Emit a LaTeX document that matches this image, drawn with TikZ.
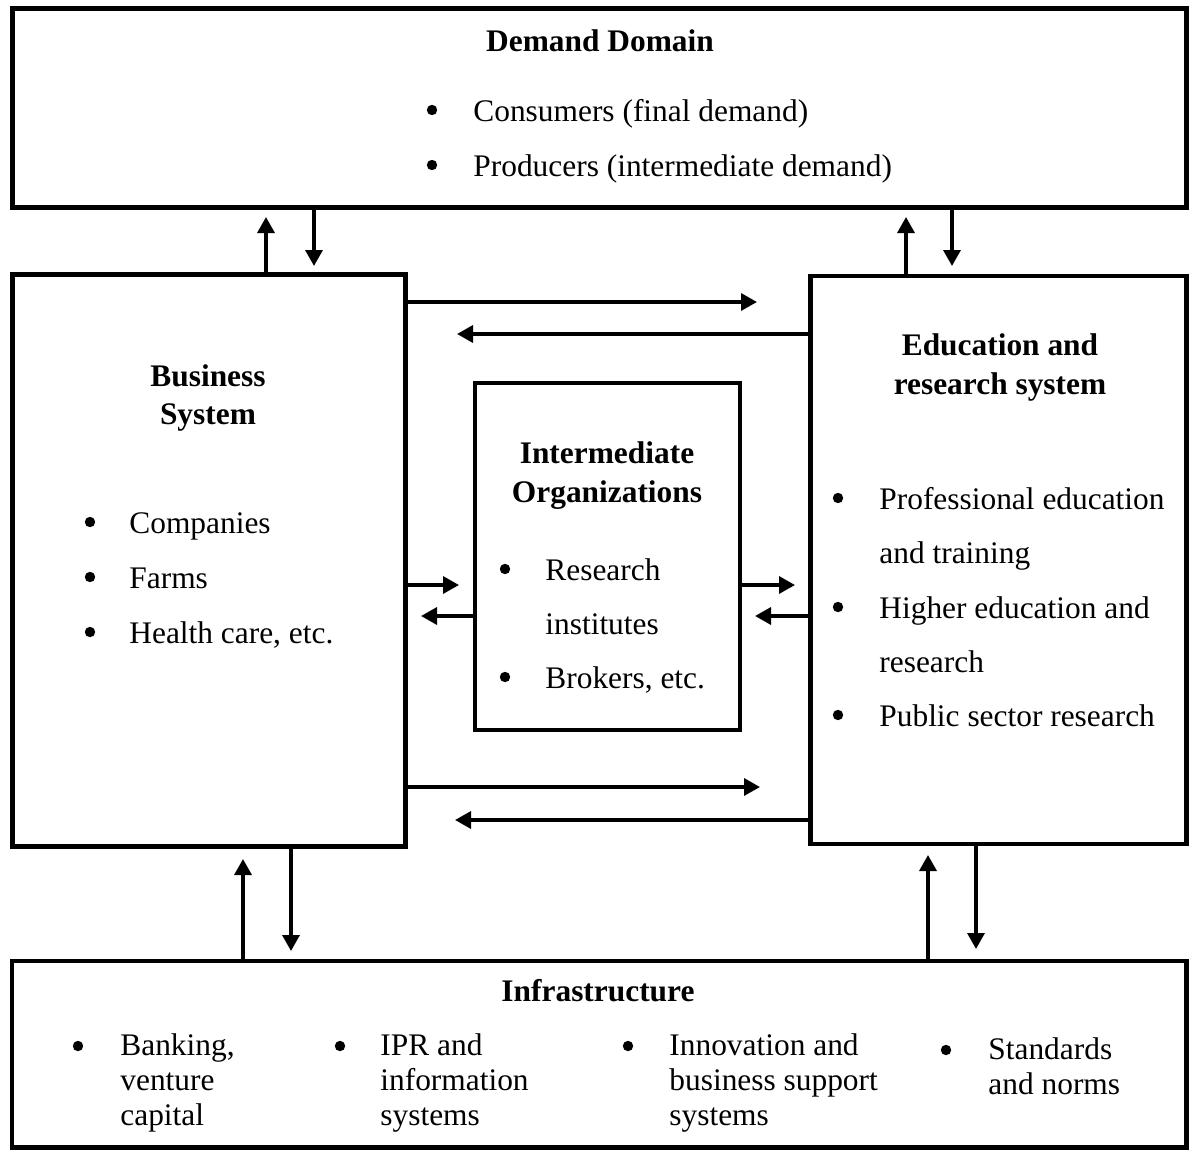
\documentclass[tikz,border=0pt]{standalone}
\usepackage{fontspec}
\setmainfont{Liberation Serif}
\usetikzlibrary{arrows.meta}
\begin{document}
\begin{tikzpicture}[x=0.5pt,y=-0.5pt,
  box/.style={draw, line width=2.2pt, rectangle, inner sep=0pt},
  arr/.style={line width=1.7pt, -{Triangle[length=8pt,width=8.5pt]}},
  txt/.style={anchor=base west, inner sep=0pt, font=\fontsize{15.7}{18}\selectfont},
  hd/.style={anchor=base, inner sep=0pt, font=\fontsize{15.7}{18}\selectfont\bfseries},
  col/.style={align=left, anchor=north west, inner sep=0pt, font=\fontsize{15.7}{17.5}\selectfont},
  dot/.style={circle, fill, inner sep=0pt, minimum size=5.2pt}]
\useasboundingbox (0,0) rectangle (1189,1151);

% main boxes
\node[box, minimum width=587pt, minimum height=99.5pt] (dem) at (599.5,108) {};
\node[box, minimum width=196.5pt, minimum height=286pt] (biz) at (209,560.5) {};
\node[box, minimum width=188pt, minimum height=284pt] (edu) at (998.5,560) {};
\node[box, minimum width=132.5pt, minimum height=173.5pt] (mid) at (607.5,556.5) {};
\node[box, minimum width=587.25pt, minimum height=93.25pt] (inf) at (599.25,1054.25) {};

% Demand domain
\node[hd] (demt) at (600,51) {Demand Domain};
\node[dot] (d1) at (432,110) {};
\node[txt] (d1t) at (473,121) {Consumers (final demand)};
\node[dot] (d2) at (432,165) {};
\node[txt] (d2t) at (473,176) {Producers (intermediate demand)};

% Business system
\node[hd] (bizt1) at (208,386) {Business};
\node[hd] (bizt2) at (208,424) {System};
\node[dot] (b1) at (90,522) {};
\node[txt] (b1t) at (129,533) {Companies};
\node[dot] (b2) at (90,577) {};
\node[txt] (b2t) at (129,588) {Farms};
\node[dot] (b3) at (90,632) {};
\node[txt] (b3t) at (129,643) {Health care, etc.};

% Intermediate organizations
\node[hd] (midt1) at (607,463) {Intermediate};
\node[hd] (midt2) at (607,502) {Organizations};
\node[dot] (m1) at (505,569) {};
\node[txt] (m1t) at (545,580) {Research};
\node[txt] (m1u) at (545,634) {institutes};
\node[dot] (m2) at (505,677) {};
\node[txt] (m2t) at (545,688) {Brokers, etc.};

% Education and research system
\node[hd] (edut1) at (1000,355) {Education and};
\node[hd] (edut2) at (1000,394) {research system};
\node[dot] (e1) at (838,498) {};
\node[txt] (e1t) at (879,509) {Professional education};
\node[txt] (e1u) at (879,563) {and training};
\node[dot] (e2) at (838,607) {};
\node[txt] (e2t) at (879,618) {Higher education and};
\node[txt] (e2u) at (879,672) {research};
\node[dot] (e3) at (838,715) {};
\node[txt] (e3t) at (879,726) {Public sector research};

% Infrastructure
\node[hd] (inft) at (598,1001) {Infrastructure};
\node[dot] (i1) at (78,1046) {};
\node[col] (i1t) at (120,1033) {Banking,\\venture\\capital};
\node[dot] (i2) at (340,1046) {};
\node[col] (i2t) at (380,1033) {IPR and\\information\\systems};
\node[dot] (i3) at (628,1046) {};
\node[col] (i3t) at (669,1033) {Innovation and\\business support\\systems};
\node[dot] (i4) at (946,1050) {};
\node[col] (i4t) at (988,1037) {Standards\\and norms};

% free arrow ends
\coordinate (t1) at (266,217);
\coordinate (t2) at (314,266);
\coordinate (t3) at (906,217);
\coordinate (t4) at (952,266);
\coordinate (t5) at (757,302);
\coordinate (t6) at (457,334);
\coordinate (t7) at (459,585);
\coordinate (t8) at (421,616);
\coordinate (t9) at (795,585);
\coordinate (t10) at (755,616);
\coordinate (t11) at (760,787);
\coordinate (t12) at (455,820);
\coordinate (t13) at (243,859);
\coordinate (t14) at (291,951);
\coordinate (t15) at (928,855);
\coordinate (t16) at (976,949);

% connectors
\draw[arr] (biz.north -| t1) -- (t1);
\draw[arr] (dem.south -| t2) -- (t2);
\draw[arr] (edu.north -| t3) -- (t3);
\draw[arr] (dem.south -| t4) -- (t4);
\draw[arr] (biz.east |- t5) -- (t5);
\draw[arr] (edu.west |- t6) -- (t6);
\draw[arr] (biz.east |- t7) -- (t7);
\draw[arr] (mid.west |- t8) -- (t8);
\draw[arr] (mid.east |- t9) -- (t9);
\draw[arr] (edu.west |- t10) -- (t10);
\draw[arr] (biz.east |- t11) -- (t11);
\draw[arr] (edu.west |- t12) -- (t12);
\draw[arr] (inf.north -| t13) -- (t13);
\draw[arr] (biz.south -| t14) -- (t14);
\draw[arr] (inf.north -| t15) -- (t15);
\draw[arr] (edu.south -| t16) -- (t16);
\end{tikzpicture}
\end{document}
